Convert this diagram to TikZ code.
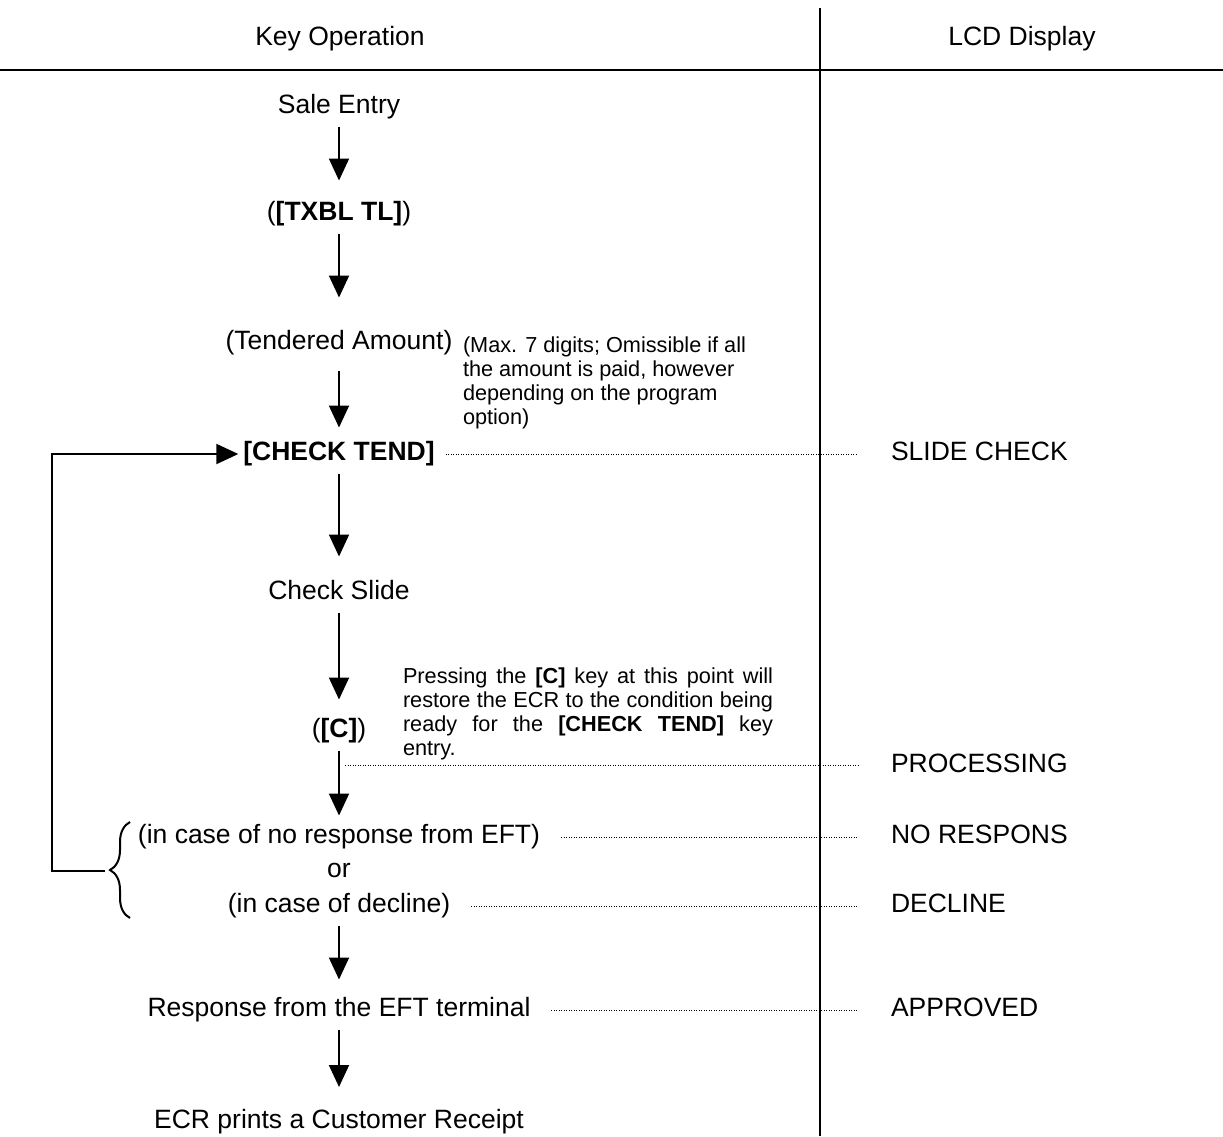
\documentclass[tikz,border=0pt]{standalone}
\usepackage{fontspec}
\setmainfont{Liberation Sans}
\usetikzlibrary{arrows.meta,decorations.pathreplacing}
\newcommand\keyfont{\fontsize{26.5pt}{30pt}\selectfont}
\newcommand\notefont{\fontsize{21.7pt}{24pt}\selectfont}

\begin{document}
\begin{tikzpicture}[x=1pt,y=-1pt,line width=2pt,>={Triangle[width=20pt,length=22pt]},
	keyop/.style={anchor=base,inner xsep=4pt,inner ysep=6pt,text height=19pt,text depth=6pt,font=\keyfont},
	head/.style={anchor=base,inner sep=0pt,font=\keyfont},
	lcd/.style={anchor=base west,inner sep=0pt,font=\keyfont},
	remark/.style={anchor=base west,inner sep=0pt,font=\notefont},
	dots/.style={line width=1pt,dash pattern=on 1pt off 1.5pt,shorten <=16pt},
	flow/.style={->,shorten >=4pt}]
	\useasboundingbox (0,0) rectangle (1223,1136);
	% headings and rules
	\node[head] (keyhead) at (340,45.5){Key Operation};
	\node[head] (lcdhead) at (1022,45.5){LCD Display};
	\coordinate (ruleL) at (0,70);
	\coordinate (ruleR) at (1223,70);
	\coordinate (divtop) at (820,8);
	\coordinate (divbot) at (820,1136);
	\draw (ruleL) -- (ruleR);
	\draw (divtop) -- (divbot);
	% key operation column
	\node[keyop] (sale) at (339,113.5){Sale Entry};
	\node[keyop] (txbl) at (339,220.5){(\textbf{[TXBL TL]})};
	\node[keyop] (tend) at (339,349.5){(Tendered Amount)};
	\node[keyop] (check) at (339,460.5){\textbf{[CHECK TEND]}};
	\node[keyop] (slide) at (339,599.5){Check Slide};
	\node[keyop] (ckey) at (339,737.5){(\textbf{[C]})};
	\node[keyop] (noresp) at (339,843.5){(in case of no response from EFT)};
	\node[keyop] (or) at (339,877.5){or};
	\node[keyop] (decline) at (339,912.5){(in case of decline)};
	\node[keyop] (resp) at (339,1016.5){Response from the EFT terminal};
	\node[keyop] (receipt) at (339,1128){ECR prints a Customer Receipt};
	\draw[flow,shorten >=14pt] (sale) -- (txbl);
	\draw[flow,shorten >=26pt] (txbl) -- (tend);
	\draw[flow,shorten <=8pt,shorten >=7pt] (tend) -- (check);
	\draw[flow,shorten >=17pt] (check) -- (slide);
	\draw[flow,shorten >=12pt] (slide) -- (ckey);
	\draw[flow,shorten >=2pt] (ckey) -- (noresp);
	\draw[flow,shorten >=11pt] (decline) -- (resp);
	\draw[flow,shorten >=15pt] (resp) -- (receipt);
	% remarks
	\node[remark,align=left] (maxnote) at (462,424){(Max. 7 digits; Omissible if all\\the amount is paid, however\\depending on the program\\option)};
	\node[remark,text width=370pt,align=justify] (cnote) at (402,683.8){Pressing the \textbf{[C]} key at this point will\linebreak
		restore the ECR to the condition being\linebreak
		ready for the \textbf{[CHECK TEND]} key\linebreak
		entry.};
	% LCD display column
	\coordinate (dotend) at (858,0);
	\node[lcd] (slidechk) at (890,460.5){SLIDE CHECK};
	\node[lcd] (processing) at (890,772.5){PROCESSING};
	\node[lcd] (norespons) at (890,843.5){NO RESPONS};
	\node[lcd] (declined) at (890,912.5){DECLINE};
	\node[lcd] (approved) at (890,1016.5){APPROVED};
	\coordinate (procstart) at (345,765);
	\draw[dots,shorten <=6pt] (check.east) -- (check.east -| dotend);
	\draw[dots,shorten <=0pt] (procstart) -- (procstart -| dotend);
	\draw[dots] (noresp.east) -- (noresp.east -| dotend);
	\draw[dots] (decline.east) -- (decline.east -| dotend);
	\draw[dots] (resp.east) -- (resp.east -| dotend);
	% retry loop
	\draw[decorate,decoration={brace,amplitude=20pt}] (130,918) -- (130,822);
	\coordinate (loopstart) at (105,871);
	\coordinate (loopcorner) at (52,871);
	\draw[->] (loopstart) -- (loopcorner) |- (check.west);
\end{tikzpicture}
\end{document}
